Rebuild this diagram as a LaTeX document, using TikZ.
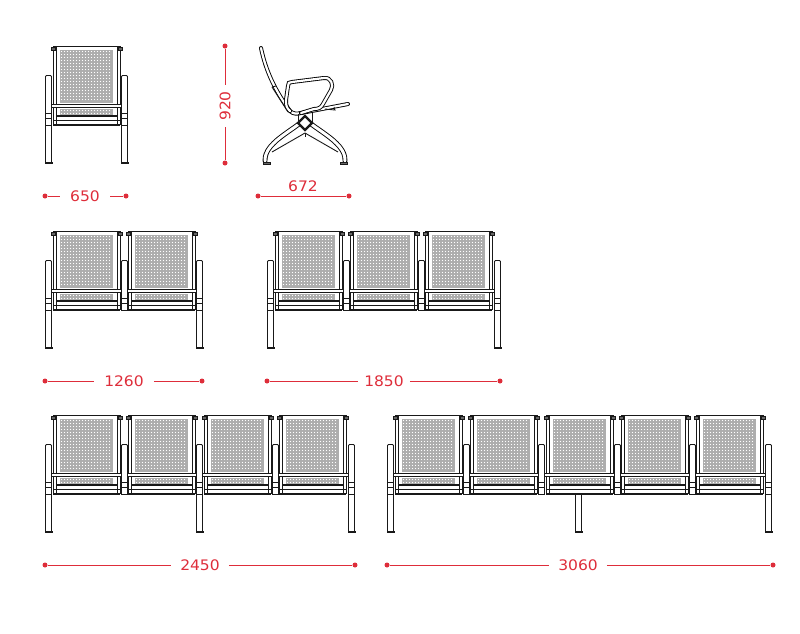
\documentclass[tikz,border=0pt]{standalone}
\usepackage{fontspec}
\setmainfont[FakeStretch=1.07]{DejaVu Sans}
\definecolor{dimred}{RGB}{222,45,58}
\tikzset{
  chairline/.style = {draw = black!90, line width = 0.9pt},
  tube/.style = {draw = black, line width = 0.9pt, double = white, double distance = 2.2pt, line cap = round},
  mesh/.style = {fill = black!32, draw = none},
  dimdot/.style = {circle, fill = dimred, inner sep = 0pt, minimum size = 5pt},
  dimtext/.style = {text = dimred, font = \fontsize{14.5}{14.5}\selectfont, inner xsep = 6pt, inner ysep = 1pt},
  dimline/.style = {draw = dimred, line width = 0.7pt}
}
% one seat seen from the front, #1 #2 = left and top of the back
\newcommand{\seatunit}[2]{
\begin{scope}[shift = {(#1,#2)}]
\fill[mesh] (6,4) rectangle (59,57);
\fill[mesh] (6,63) rectangle (59,70);
\foreach \py in {5.5,8.5,...,56}{\foreach \px in {7.5,10.5,...,58}{\fill[white] (\px,\py) circle (0.6pt);}}
\foreach \py in {64.5,67.5}{\foreach \px in {7.5,10.5,...,58}{\fill[white] (\px,\py) circle (0.6pt);}}
\draw[chairline] (-1,0) -- (-1,79);
\draw[chairline] (2,0) -- (2,79);
\draw[chairline] (63,0) -- (63,79);
\draw[chairline] (66,0) -- (66,79);
\draw[chairline, line width = 1.4pt] (-1,0.5) -- (66,0.5);
\draw[chairline, fill = black!60] (-3,1) rectangle (1,4);
\draw[chairline, fill = black!60] (64,1) rectangle (68,4);
\draw[chairline, fill = white] (-3,58) rectangle (68,61);
\draw[chairline, line width = 1.2pt] (2,70) -- (63,70);
\draw[chairline] (-1,74) -- (66,74);
\draw[chairline, line width = 1.2pt] (-1,79) -- (66,79);
\end{scope}
}
% arm rest between seats
\newcommand{\armunit}[2]{
\begin{scope}[shift = {(#1,#2)}]
\draw[chairline, fill = white, rounded corners = 1pt] (0.5,67) -- (0.5,29.5) -- (6.5,29.5) -- (6.5,67);
\draw[chairline] (0.5,67) rectangle (6.5,79);
\draw[chairline] (0.5,72) -- (6.5,72);
\end{scope}
}
% leg with foot
\newcommand{\legunit}[2]{
\begin{scope}[shift = {(#1,#2)}]
\draw[chairline, fill = white] (0.8,79) rectangle (6.2,116);
\draw[chairline, fill = black!50] (0,116) rectangle (7,117.5);
\end{scope}
}
\begin{document}
\begin{tikzpicture}[x = 1pt, y = -1pt]
\useasboundingbox (0,0) rectangle (800,633);
% single chair, front
\seatunit{54}{46}
\armunit{45}{46}
\armunit{121}{46}
\legunit{45}{46}
\legunit{121}{46}
% single chair, side
\draw[tube] (261,48) .. controls (266,72) and (276,92) .. (290,111) .. controls (293,114) and (297,114) .. (301,113) -- (348,104);
\draw[tube] (290,111) .. controls (286,108) and (286,104) .. (286,100) -- (288,86) .. controls (288,83) and (289,82) .. (292,82) -- (324,78) .. controls (331,77) and (334,85) .. (331,90) -- (323,104) .. controls (321,108) and (318,109) .. (314,109) -- (301,113);
\draw[chairline] (272,87) -- (276,86);
\draw[chairline] (272,87) -- (288,112);
\draw[chairline] (325,109) -- (335,110) -- (334,107);
\draw[chairline] (298,114) -- (298,122);
\draw[chairline] (312,113) -- (312,122);
\draw[tube, double distance = 3pt] (299,124) .. controls (288,132) and (278,138) .. (271,146) .. controls (266,152) and (265,156) .. (265,161);
\draw[tube, double distance = 3pt] (311,124) .. controls (322,132) and (332,138) .. (339,146) .. controls (344,152) and (345,156) .. (345,161);
\draw[chairline] (305,133) -- (272,152);
\draw[chairline] (305,133) -- (338,152);
\draw[chairline] (305,133) -- (305,137);
\draw[chairline, line width = 2.2pt, fill = white] (305,116) -- (312,123) -- (305,130) -- (298,123) -- cycle;
\draw[chairline, fill = black!60] (263,162) rectangle (270,164);
\draw[chairline, fill = black!60] (340,162) rectangle (347,164);
% two seats
\seatunit{54}{231}
\seatunit{129}{231}
\armunit{45}{231}
\armunit{121}{231}
\armunit{196}{231}
\legunit{45}{231}
\legunit{196}{231}
% three seats
\seatunit{276}{231}
\seatunit{351}{231}
\seatunit{426}{231}
\armunit{267}{231}
\armunit{343}{231}
\armunit{418}{231}
\armunit{494}{231}
\legunit{267}{231}
\legunit{494}{231}
% four seats
\seatunit{54}{415}
\seatunit{129}{415}
\seatunit{205}{415}
\seatunit{280}{415}
\armunit{45}{415}
\armunit{121}{415}
\armunit{196}{415}
\armunit{272}{415}
\armunit{348}{415}
\legunit{45}{415}
\legunit{196}{415}
\legunit{348}{415}
% five seats
\seatunit{396}{415}
\seatunit{471}{415}
\seatunit{547}{415}
\seatunit{622}{415}
\seatunit{697}{415}
\armunit{387}{415}
\armunit{463}{415}
\armunit{538}{415}
\armunit{614}{415}
\armunit{689}{415}
\armunit{765}{415}
\legunit{387}{415}
\legunit{575}{415}
\legunit{765}{415}
% dimensions
\node[dimdot](a650) at (45,196){};
\node[dimdot](b650) at (126,196){};
\node[dimtext, inner xsep = 10pt](t650) at (85,196){650};
\draw[dimline] (a650)--(t650);
\draw[dimline] (t650)--(b650);
\node[dimdot](a920) at (225,46){};
\node[dimdot](b920) at (225,163){};
\node[dimtext, rotate = 90](t920) at (225,106){920};
\draw[dimline] (a920)--(t920);
\draw[dimline] (t920)--(b920);
\node[dimdot](a672) at (258,196){};
\node[dimdot](b672) at (349,196){};
\node[dimtext](t672) at (303,186){672};
\draw[dimline] (a672)--(b672);
\node[dimdot](a1260) at (45,381){};
\node[dimdot](b1260) at (202,381){};
\node[dimtext, inner xsep = 10pt](t1260) at (124,381){1260};
\draw[dimline] (a1260)--(t1260);
\draw[dimline] (t1260)--(b1260);
\node[dimdot](a1850) at (267,381){};
\node[dimdot](b1850) at (500,381){};
\node[dimtext](t1850) at (384,381){1850};
\draw[dimline] (a1850)--(t1850);
\draw[dimline] (t1850)--(b1850);
\node[dimdot](a2450) at (45,565){};
\node[dimdot](b2450) at (355,565){};
\node[dimtext, inner xsep = 9pt](t2450) at (200,565){2450};
\draw[dimline] (a2450)--(t2450);
\draw[dimline] (t2450)--(b2450);
\node[dimdot](a3060) at (387,565){};
\node[dimdot](b3060) at (773,565){};
\node[dimtext, inner xsep = 9pt](t3060) at (578,565){3060};
\draw[dimline] (a3060)--(t3060);
\draw[dimline] (t3060)--(b3060);
\end{tikzpicture}
\end{document}
